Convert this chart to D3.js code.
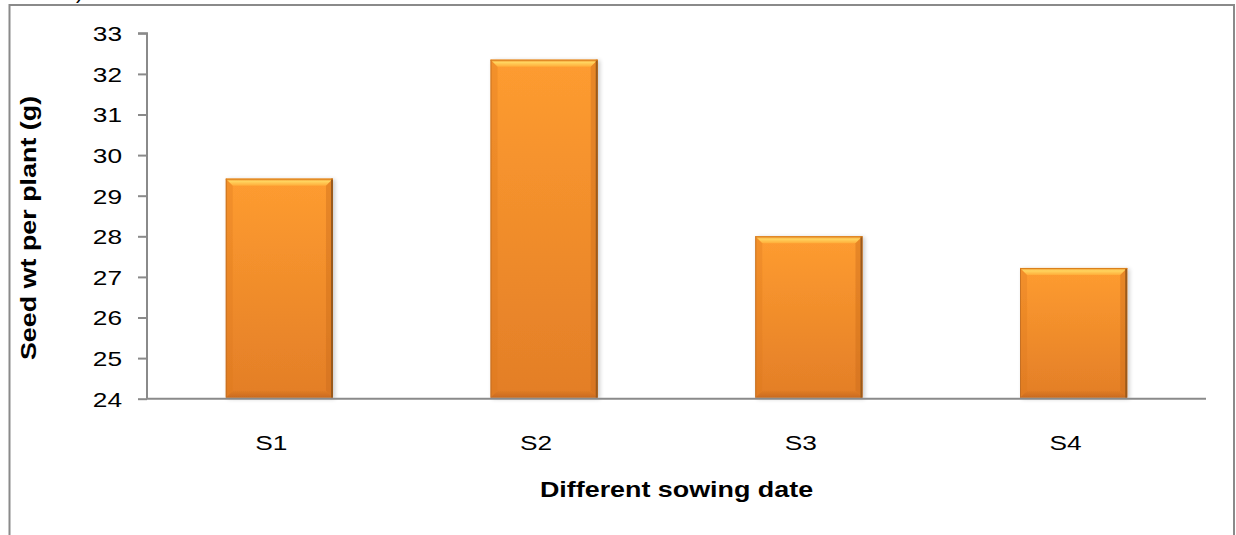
<!DOCTYPE html>
<html>
<head>
<meta charset="utf-8">
<script src="https://cdn.jsdelivr.net/npm/d3@7"></script>
<style>
  html, body { margin: 0; padding: 0; background: #fff; }
  svg { display: block; font-family: "Liberation Sans", Arial, sans-serif; }
</style>
</head>
<body>
<svg id="chart" width="1236" height="535"></svg>
<script>
// Seed weight per plant by sowing date
const categories = ["S1", "S2", "S3", "S4"];
const seedWeight = [29.42, 32.35, 28.0, 27.22];
const yTicks = [24, 25, 26, 27, 28, 29, 30, 31, 32, 33];
const yTitle = "Seed wt per plant (g)";
const xTitle = "Different sowing date";

const svg = d3.select("#chart");
const plot = { left: 147, right: 1206, top: 33.3, bottom: 398.7 };
const FONT = "Liberation Sans, Arial, sans-serif";
const WIDE = 1.25; // horizontal stretch of the lettering

// outer chart frame (runs past the bottom edge)
svg.append("rect")
  .attr("x", 9.5).attr("y", 5)
  .attr("width", 1224.5).attr("height", 600)
  .attr("fill", "none").attr("stroke", "#8a8a8a").attr("stroke-width", 2);

// clipped caption glyph above the frame
svg.append("text")
  .attr("x", 76).attr("y", -1)
  .attr("font-size", 21).attr("fill", "#000")
  .text(")");

const x = d3.scaleBand().domain(categories).range([plot.left, plot.right]).paddingInner(0.595).paddingOuter(0.2975);
const y = d3.scaleLinear().domain([24, 33]).range([plot.bottom, plot.top]);

const defs = svg.append("defs");
const body = defs.append("linearGradient").attr("id", "barBody").attr("x1", 0).attr("y1", 0).attr("x2", 0).attr("y2", 1);
body.append("stop").attr("offset", "0%").attr("stop-color", "#fe9c30");
body.append("stop").attr("offset", "100%").attr("stop-color", "#e37e27");

const topBevel = defs.append("linearGradient").attr("id", "topBevel").attr("x1", 0).attr("y1", 0).attr("x2", 0).attr("y2", 1);
topBevel.append("stop").attr("offset", "0%").attr("stop-color", "#f0922e");
topBevel.append("stop").attr("offset", "40%").attr("stop-color", "#ffd45f");
topBevel.append("stop").attr("offset", "100%").attr("stop-color", "#ffad3a");

const bottomBevel = defs.append("linearGradient").attr("id", "bottomBevel").attr("x1", 0).attr("y1", 0).attr("x2", 0).attr("y2", 1);
bottomBevel.append("stop").attr("offset", "0%").attr("stop-color", "#e07c25");
bottomBevel.append("stop").attr("offset", "100%").attr("stop-color", "#c2651c");

const shadow = defs.append("filter").attr("id", "barShadow").attr("x", "-10%").attr("y", "-5%").attr("width", "125%").attr("height", "115%");
shadow.append("feGaussianBlur").attr("in", "SourceAlpha").attr("stdDeviation", 2.2).attr("result", "b");
shadow.append("feOffset").attr("in", "b").attr("dx", 2).attr("dy", 1).attr("result", "o");
shadow.append("feComponentTransfer").attr("in", "o").attr("result", "s")
  .append("feFuncA").attr("type", "linear").attr("slope", 0.2);
const merge = shadow.append("feMerge");
merge.append("feMergeNode").attr("in", "s");
merge.append("feMergeNode").attr("in", "SourceGraphic");

// bars with bevelled edges
const bars = svg.append("g").selectAll("g.bar")
  .data(categories.map((c, i) => ({ c, v: seedWeight[i] })))
  .join("g").attr("class", "bar").attr("filter", "url(#barShadow)");

bars.each(function(d) {
  const g = d3.select(this);
  const x0 = x(d.c), x1 = x0 + x.bandwidth();
  const y0 = y(d.v), y1 = y(24) - 1;
  const bt = 7, bs = 7, bb = 7;
  g.append("rect").attr("x", x0).attr("y", y0).attr("width", x1 - x0).attr("height", y1 - y0).attr("fill", "url(#barBody)");
  // top face
  g.append("path").attr("d", `M${x0},${y0}L${x1},${y0}L${x1 - bs},${y0 + bt}L${x0 + bs},${y0 + bt}Z`).attr("fill", "url(#topBevel)");
  // left face
  g.append("path").attr("d", `M${x0},${y0}L${x0 + bs},${y0 + bt}L${x0 + bs},${y1 - bb}L${x0},${y1}Z`).attr("fill", "#d9761f").attr("opacity", 0.3);
  // right face
  g.append("path").attr("d", `M${x1},${y0}L${x1 - bs},${y0 + bt}L${x1 - bs},${y1 - bb}L${x1},${y1}Z`).attr("fill", "#c96a18").attr("opacity", 0.4);
  // bottom face
  g.append("path").attr("d", `M${x0},${y1}L${x0 + bs},${y1 - bb}L${x1 - bs},${y1 - bb}L${x1},${y1}Z`).attr("fill", "url(#bottomBevel)").attr("opacity", 0.8);
  // edge lines
  g.append("line").attr("x1", x1 - 1).attr("x2", x1 - 1).attr("y1", y0).attr("y2", y1).attr("stroke", "#9a5a1e").attr("stroke-width", 2);
  g.append("line").attr("x1", x0 + 0.5).attr("x2", x0 + 0.5).attr("y1", y0).attr("y2", y1).attr("stroke", "#b8681f").attr("stroke-width", 1).attr("opacity", 0.7);
  g.append("line").attr("x1", x0).attr("x2", x1).attr("y1", y0 + 0.5).attr("y2", y0 + 0.5).attr("stroke", "#d9801f").attr("stroke-width", 1);
});

// y axis
const yAxis = svg.append("g").attr("transform", `translate(${plot.left},0)`)
  .call(d3.axisLeft(y).tickValues(yTicks).tickSize(9).tickPadding(16).tickFormat(d3.format("d")));
yAxis.select(".domain").attr("stroke", "#8a8a8a").attr("stroke-width", 2).attr("d", `M-9,${plot.top}H0V${plot.bottom}`);
yAxis.selectAll(".tick line").attr("stroke", "#8a8a8a").attr("stroke-width", 2);
yAxis.selectAll(".tick text")
  .attr("font-size", 21).attr("fill", "#000").attr("font-family", FONT)
  .attr("x", 0).attr("dy", "0.35em")
  .attr("transform", `translate(-25,0) scale(${WIDE},1)`);

// x axis
const xAxis = svg.append("g").attr("transform", `translate(0,${plot.bottom})`)
  .call(d3.axisBottom(x).tickSize(0));
xAxis.select(".domain").attr("stroke", "#8a8a8a").attr("stroke-width", 2).attr("d", `M${plot.left},0H${plot.right}`);
xAxis.selectAll(".tick text")
  .attr("font-size", 21).attr("fill", "#000").attr("font-family", FONT)
  .attr("y", 0).attr("dy", 0)
  .attr("transform", `translate(-8,51) scale(${WIDE},1)`);

// axis titles
svg.append("text")
  .attr("transform", `translate(${(plot.left + plot.right) / 2},497) scale(${WIDE},1)`)
  .attr("text-anchor", "middle").attr("font-size", 21.5).attr("font-weight", "bold")
  .text(xTitle);

svg.append("text")
  .attr("transform", `translate(36,228) rotate(-90) scale(${WIDE},1)`)
  .attr("text-anchor", "middle").attr("font-size", 21.5).attr("font-weight", "bold")
  .text(yTitle);
</script>
</body>
</html>
